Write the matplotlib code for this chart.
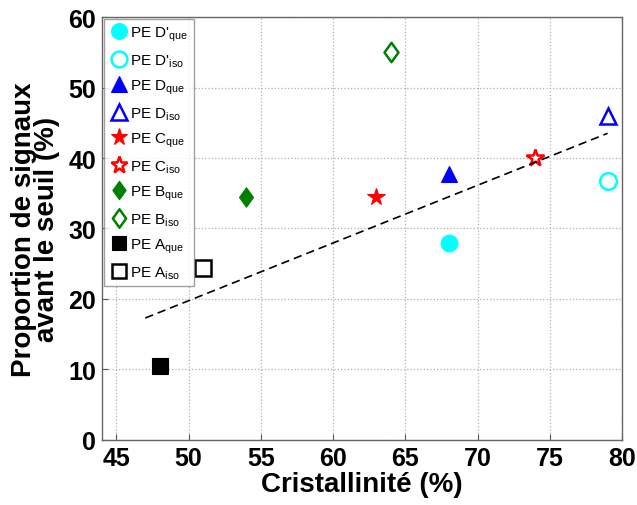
import matplotlib
matplotlib.use('Agg')
import matplotlib.pyplot as plt
from matplotlib.path import Path

plt.rcParams['font.family'] = ['Liberation Sans', 'DejaVu Sans']
plt.rcParams['mathtext.fontset'] = 'custom'
plt.rcParams['mathtext.rm'] = 'Liberation Sans'
plt.rcParams['mathtext.it'] = 'Liberation Sans'
plt.rcParams['mathtext.bf'] = 'Liberation Sans:bold'

### data
labels = ["PE D'$_{\\mathregular{que}}$", "PE D'$_{\\mathregular{iso}}$",
          "PE D$_{\\mathregular{que}}$", "PE D$_{\\mathregular{iso}}$",
          "PE C$_{\\mathregular{que}}$", "PE C$_{\\mathregular{iso}}$",
          "PE B$_{\\mathregular{que}}$", "PE B$_{\\mathregular{iso}}$",
          "PE A$_{\\mathregular{que}}$", "PE A$_{\\mathregular{iso}}$"]
cristallinite = [68, 79, 68, 79, 63, 74, 54, 64, 48, 51]
proportion = [28.0, 36.8, 37.8, 45.9, 34.4, 40.0, 34.5, 55.0, 10.5, 24.4]
colors = ['#00FFFF', '#00FFFF', '#0000FF', '#0000FF', '#FF0000', '#FF0000',
          '#008000', '#008000', '#000000', '#000000']
markers = ['o', 'o', '^', '^', '*', '*', 'diam', 'diam', 's', 's']
filled = [True, False, True, False, True, False, True, False, True, False]
sizes = [12, 12, 12, 12, 13, 13, 14, 14, 11, 11]

trend_x = [47, 79]
trend_y = [17.3, 43.5]

# matlab style diamond (taller than wide)
diamond = Path([(0, 1), (0.72, 0), (0, -1), (-0.72, 0), (0, 1)],
               [Path.MOVETO, Path.LINETO, Path.LINETO, Path.LINETO, Path.CLOSEPOLY])

fig = plt.figure(figsize=(6.37, 5.06), dpi=100)
ax = fig.add_axes([0.160, 0.1285, 0.8165, 0.8359])

for i in range(len(labels)):
    m = diamond if markers[i] == 'diam' else markers[i]
    kw = dict(marker=m, linestyle='none', markersize=sizes[i],
              markeredgecolor=colors[i], markeredgewidth=1.8)
    if filled[i]:
        kw['markerfacecolor'] = colors[i]
        kw['markeredgewidth'] = 0.8
    else:
        kw['markerfacecolor'] = 'white'
    ax.plot(cristallinite[i], proportion[i], label=labels[i], **kw)

ax.plot(trend_x, trend_y, '--', color='black', linewidth=1.2, dashes=(5, 3))

ax.set_xlim(44, 80)
ax.set_ylim(0, 60)
ax.set_xticks(range(45, 81, 5))
ax.set_yticks(range(0, 61, 10))
ax.grid(True, linestyle=':', color='#b0b0b0', linewidth=0.9)
ax.tick_params(direction='in', length=4, colors='#555555', labelcolor='black',
               labelsize=18, pad=4)
for lab in ax.get_xticklabels() + ax.get_yticklabels():
    lab.set_fontweight('bold')
for s in ax.spines.values():
    s.set_color('#666666')
    s.set_linewidth(1.0)

ax.set_xlabel('Cristallinité (%)', fontsize=20, fontweight='bold', labelpad=1)
ax.set_ylabel('Proportion de signaux\navant le seuil (%)', fontsize=20,
              fontweight='bold', linespacing=0.85)
ax.yaxis.set_label_coords(-0.08, 0.5)

leg = ax.legend(loc='upper left', frameon=True, fancybox=False,
                edgecolor='#888888', borderaxespad=0.15, handletextpad=0.15,
                labelspacing=0.6, borderpad=0.35, handlelength=1.2,
                markerscale=0.95, prop={'size': 11})
leg.get_frame().set_linewidth(1.0)

fig.savefig('out.png', dpi=100)
